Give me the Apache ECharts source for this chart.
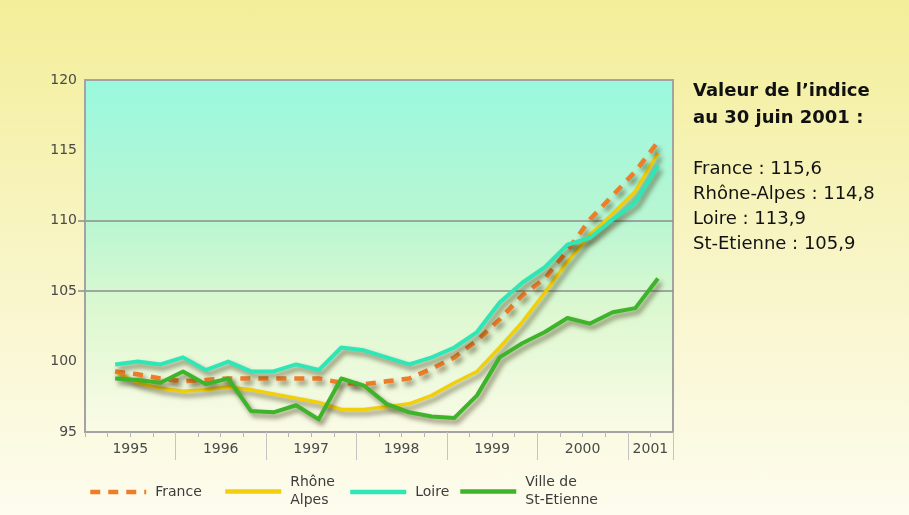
<!DOCTYPE html>
<html>
<head>
<meta charset="utf-8">
<title>Indice des prix de l'immobilier</title>
<script src="https://cdn.jsdelivr.net/npm/echarts@6/dist/echarts.min.js"></script>
<style>
  html, body { margin: 0; padding: 0; width: 909px; height: 515px; overflow: hidden; }
  #chart {
    width: 909px; height: 515px;
    background: linear-gradient(to top, #fdfcee 0%, #f9f6cd 42%, #f3ee98 100%);
  }
</style>
</head>
<body>
<div id="chart"></div>
<script>
// Observation dates (year-month) of the quarterly index
const periods = [
  '1995-05', '1995-08', '1995-11', '1996-02', '1996-05', '1996-08', '1996-11',
  '1997-02', '1997-05', '1997-08', '1997-11', '1998-02', '1998-05', '1998-08',
  '1998-11', '1999-02', '1999-05', '1999-08', '1999-11', '2000-02', '2000-05',
  '2000-08', '2000-11', '2001-02', '2001-05'
];

// Index values per area
const france = [99.3, 99.1, 98.8, 98.6, 98.7, 98.8, 98.8, 98.8, 98.8, 98.8, 98.5, 98.4, 98.6,
  98.8, 99.5, 100.3, 101.5, 103.0, 104.7, 105.9, 107.9, 110.1, 111.8, 113.5, 115.6];
const rhoneAlpes = [99.3, 98.5, 98.1, 97.9, 98.0, 98.2, 98.0, 97.7, 97.4, 97.1, 96.6, 96.6, 96.8,
  97.0, 97.6, 98.5, 99.3, 101.0, 102.8, 104.9, 107.1, 109.0, 110.5, 112.1, 114.8];
const loire = [99.8, 100.0, 99.8, 100.3, 99.4, 100.0, 99.3, 99.3, 99.8, 99.4, 101.0, 100.8, 100.3,
  99.8, 100.3, 101.0, 102.1, 104.2, 105.6, 106.7, 108.3, 108.8, 110.1, 111.3, 113.9];
const stEtienne = [98.8, 98.7, 98.5, 99.3, 98.4, 98.8, 96.5, 96.4, 96.9, 95.9, 98.8, 98.3, 97.0,
  96.4, 96.1, 96.0, 97.6, 100.3, 101.3, 102.1, 103.1, 102.7, 103.5, 103.8, 105.9];

// Axis settings
const yMin = 95, yMax = 120, yStep = 5;
const gridLevels = [105, 110];
const xMin = 1995, xMax = 2001.5;
const yearLabels = ['1995', '1996', '1997', '1998', '1999', '2000', '2001'];
const yearBoundaries = [1996, 1997, 1998, 1999, 2000, 2001, 2001.5];

// Side panel text
const panelTitle = ['Valeur de l\u2019indice', 'au 30 juin 2001 :'];
const panelLines = ['France : 115,6', 'Rh\u00f4ne-Alpes : 114,8', 'Loire : 113,9', 'St-Etienne : 105,9'];

const FONT = '"DejaVu Sans", Verdana, sans-serif';

function toYear(p) {
  const [y, m] = p.split('-').map(Number);
  return y + (m - 1) / 12;
}
function pairs(values) {
  return periods.map((p, i) => [toYear(p), values[i]]);
}

// label sits in the middle of each (possibly partial) year
const labelPositions = yearLabels.map(y => {
  const start = Number(y);
  const end = Math.min(start + 1, xMax);
  return (start + end) / 2;
});

const shadow = {
  shadowColor: 'rgba(50, 40, 0, 0.55)',
  shadowBlur: 5,
  shadowOffsetX: 3,
  shadowOffsetY: 4
};

function lineSeries(name, values, color, width, type, z) {
  return {
    name, type: 'line', data: pairs(values),
    symbol: 'none', showSymbol: false, smooth: false, z,
    lineStyle: Object.assign({ color, width, type, cap: 'butt', join: 'round' }, shadow),
    itemStyle: { color }
  };
}

function legendFor(name, left, multiline) {
  return {
    data: [name],
    left,
    top: multiline ? 470 : 483,
    padding: 0,
    itemWidth: 56,
    itemHeight: 12,
    selectedMode: false,
    itemStyle: { opacity: 0 },
    lineStyle: { width: 4.5, shadowBlur: 0, shadowColor: 'transparent', shadowOffsetX: 0, shadowOffsetY: 0 },
    textStyle: {
      fontFamily: FONT, fontSize: 14, color: '#3c3c3c',
      lineHeight: 18,
      padding: multiline ? [7, 0, 0, 4] : [0, 0, 0, 4]
    },
    formatter: n => n === 'Rhône Alpes' ? 'Rhône\nAlpes'
                 : n === 'Ville de St-Etienne' ? 'Ville de\nSt-Etienne' : n
  };
}

const chart = echarts.init(document.getElementById('chart'), null, { renderer: 'canvas' });

chart.setOption({
  animation: false,
  backgroundColor: 'transparent',
  grid: {
    left: 85, right: 236, top: 80, bottom: 83,
    show: true,
    borderColor: '#a3a3a3',
    borderWidth: 2,
    backgroundColor: {
      type: 'linear', x: 0, y: 0, x2: 0, y2: 1,
      colorStops: [
        { offset: 0, color: '#99f9de' },
        { offset: 0.4, color: '#b9f6d2' },
        { offset: 0.65, color: '#dcf8d0' },
        { offset: 1, color: '#fbfbe6' }
      ]
    }
  },
  xAxis: [
    {
      type: 'value', min: xMin, max: xMax, interval: 0.25,
      axisLine: { show: true, lineStyle: { color: '#a3a3a3', width: 2 } },
      axisTick: { show: true, length: 5, lineStyle: { color: '#b5b5b5', width: 1 } },
      axisLabel: {
        customValues: labelPositions,
        formatter: v => String(Math.floor(v)),
        margin: 10,
        fontFamily: FONT, fontSize: 14, color: '#4a4a4a'
      },
      splitLine: { show: false }
    },
    {
      type: 'value', min: xMin, max: xMax, interval: 1,
      position: 'bottom',
      axisLine: { show: false },
      axisTick: { show: true, customValues: yearBoundaries, length: 28, lineStyle: { color: '#c4c4c4', width: 1 } },
      axisLabel: { show: false },
      splitLine: { show: false }
    }
  ],
  yAxis: {
    type: 'value', min: yMin, max: yMax, interval: yStep,
    axisLine: { show: true, lineStyle: { color: '#a3a3a3', width: 2 } },
    axisTick: { show: true, customValues: gridLevels, length: 7, lineStyle: { color: '#8c8c8c', width: 1.5 } },
    axisLabel: { margin: 8, fontFamily: FONT, fontSize: 14, color: '#4a4a4a' },
    splitLine: { show: true, customValues: gridLevels, lineStyle: { color: '#8c8c8c', width: 1.5 } }
  },
  legend: [
    legendFor('France', 88, false),
    legendFor('Rhône Alpes', 223, true),
    legendFor('Loire', 348, false),
    legendFor('Ville de St-Etienne', 458, true)
  ],
  series: [
    lineSeries('Rhône Alpes', rhoneAlpes, '#f2cf0c', 3.5, 'solid', 2),
    lineSeries('France', france, '#ee7d2a', 4.5, [10, 8], 3),
    lineSeries('Loire', loire, '#2ee6b6', 4, 'solid', 4),
    lineSeries('Ville de St-Etienne', stEtienne, '#3db42a', 4, 'solid', 5)
  ],
  graphic: [
    ...panelTitle.map((t, i) => ({
      type: 'text', x: 693, y: 91.5 + i * 27,
      style: { text: t, fontFamily: FONT, fontWeight: 'bold', fontSize: 18, fill: '#111', verticalAlign: 'middle' }
    })),
    ...panelLines.map((t, i) => ({
      type: 'text', x: 693, y: 169.5 + i * 25,
      style: { text: t, fontFamily: FONT, fontSize: 18, fill: '#111', verticalAlign: 'middle' }
    }))
  ]
});
</script>
</body>
</html>
